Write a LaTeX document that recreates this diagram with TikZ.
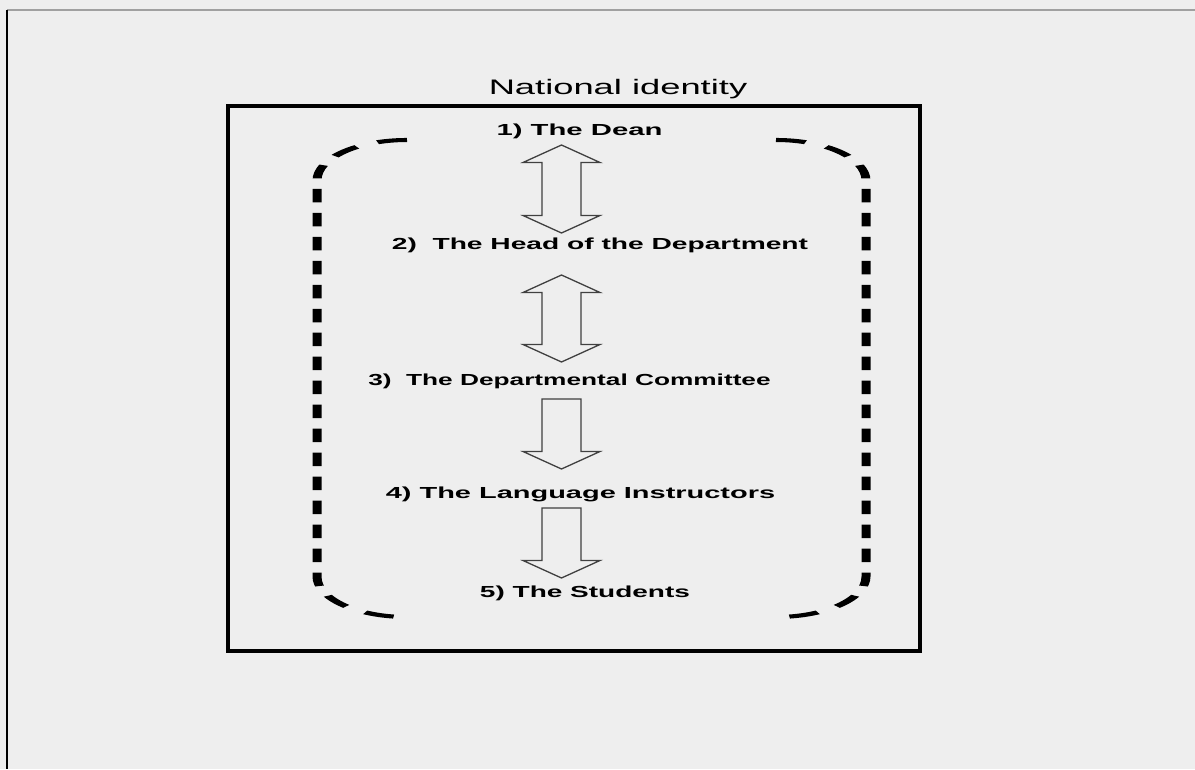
\documentclass[tikz,border=0pt]{standalone}
\usepackage{fontspec}
\setmainfont{Liberation Sans}
\definecolor{bg}{HTML}{EEEEEE}
\definecolor{arrowgray}{HTML}{404040}
\definecolor{rulegray}{HTML}{A0A0A0}
\newcommand\DblArrow[2]{% top tip Y, bottom tip Y
  \draw[blockarrow] (561.5,#1) -- (600,#1-17.5) -- (581,#1-17.5) -- (581,#2+17.5) -- (600,#2+17.5)
    -- (561.5,#2) -- (523,#2+17.5) -- (542,#2+17.5) -- (542,#1-17.5) -- (523,#1-17.5) -- cycle;}
\newcommand\DownArrow[2]{% shaft top Y, tip Y
  \draw[blockarrow] (542,#1) -- (581,#1) -- (581,#2+17.5) -- (600,#2+17.5) -- (561.5,#2)
    -- (523,#2+17.5) -- (542,#2+17.5) -- cycle;}
\begin{document}
\begin{tikzpicture}[x=1pt,y=1pt,
  lab/.style={font=\fontsize{16}{19}\selectfont\bfseries, anchor=base, inner sep=0pt},
  titlelab/.style={font=\fontsize{21}{25}\selectfont, xscale=1.73, anchor=base, inner sep=0pt},
  blockarrow/.style={draw=arrowgray, line width=1.3pt, fill=bg, line join=miter},
  bracket/.style={line width=9pt, line cap=butt, dash pattern=on 30pt off 23.3pt}]
\useasboundingbox (0,0) rectangle (1195,769);
\fill[bg] (0,0) rectangle (1195,769);
\draw[rulegray, line width=1.2pt] (7,759) -- (1195,759);
\draw[black, line width=1.2pt] (7,759) -- (7,0);
% frame
\draw[line width=4pt] (228,118) rectangle (920,663);
% texts
\node[titlelab] (title) at (618,674) {National identity};
\node[lab, xscale=1.83] (dean) at (579.5,633) {1) The Dean};
\node[lab, xscale=1.76] (head) at (600,519) {2)\ \ The Head of the Department};
\node[lab, xscale=1.64] (comm) at (569.5,383) {3)\ \ The Departmental Committee};
\node[lab, xscale=1.81] (instr) at (580.5,270) {4) The Language Instructors};
\node[lab, xscale=1.75] (stud) at (585,171) {5) The Students};
% block arrows
\DblArrow{624}{536}
\DblArrow{494}{407}
\DownArrow{370}{300}
\DownArrow{261}{191}
% dashed brackets (drawn in an unscaled space, squeezed vertically)
\begin{scope}[transform canvas={yscale=0.45}]
  \draw[bracket] (407,1397.78) arc[start angle=90,end angle=180,radius=90]
    -- (317,427.78) arc[start angle=180,end angle=270,radius=90];
  \draw[bracket] (776,1397.78) arc[start angle=90,end angle=0,radius=90]
    -- (866,427.78) arc[start angle=0,end angle=-90,radius=90];
\end{scope}
\end{tikzpicture}
\end{document}
